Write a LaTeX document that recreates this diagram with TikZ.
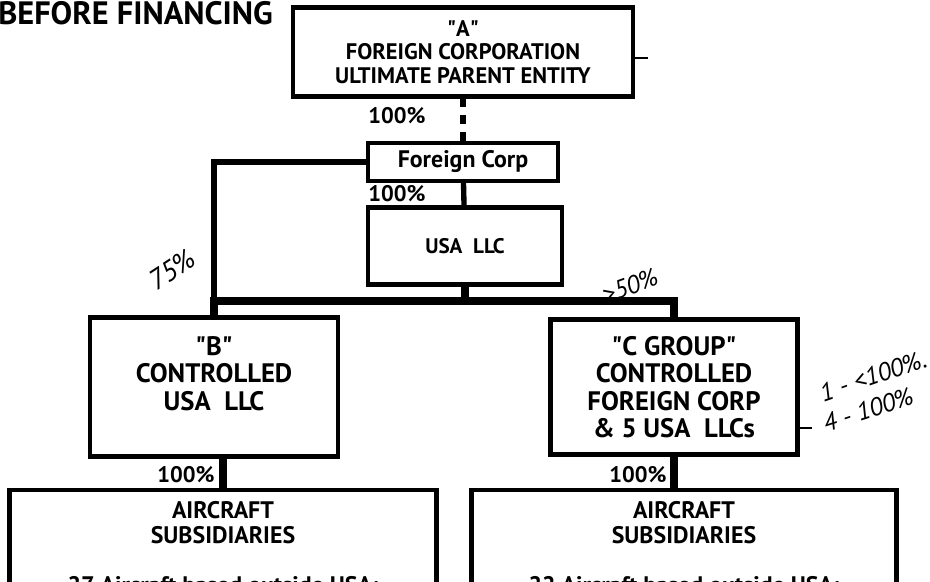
\documentclass[tikz,border=0pt]{standalone}
\usepackage{fontspec}
\setmainfont{PT Sans}
\usetikzlibrary{positioning}

\newlength{\px}
\setlength{\px}{0.025cm}
\newcommand{\qq}[1]{\textquotedbl#1\textquotedbl}

\begin{document}
\begin{tikzpicture}[x=\px, y=-\px]

% styles
\pgfkeys{/ent/.style={draw, line width=3pt, inner sep=0, align=center, font=\bfseries\fontsize{19}{19.6}\selectfont}} % entity boxes
\pgfkeys{/sub/.style={/ent, minimum height=210\px}} % aircraft subsidiaries
\pgfkeys{/own/.style={line width=3.8pt, line cap=rect}} % ownership lines
\pgfkeys{/bar/.style={line width=6pt, line cap=rect}} % thick common bar
\pgfkeys{/pct/.style={font=\bfseries\fontsize{16}{18}\selectfont, inner sep=0}} % percentages
\pgfkeys{/hand/.style={font=\itshape\fontsize{18}{20}\selectfont, inner sep=0}} % handwritten notes

\useasboundingbox (0,0) rectangle (930,582);
\clip (0,0) rectangle (930,582);

% title
\node[anchor=west, inner sep=0, font=\bfseries\fontsize{23}{26}\selectfont] (title) at (-2,13) {BEFORE FINANCING};

% entities
\node[/ent, minimum width=340\px, minimum height=89\px, font=\bfseries\fontsize{16}{16.7}\selectfont] (a) at (463,52) {\qq{A}\\FOREIGN CORPORATION\\ULTIMATE PARENT ENTITY};
\node[/ent, minimum width=190\px, minimum height=38\px, font=\bfseries\fontsize{17}{18}\selectfont] (fc) at (463,162) {Foreign Corp};
\node[/ent, minimum width=194\px, minimum height=77\px, font=\bfseries\fontsize{15}{17}\selectfont] (ullc) at (465,246) {USA\ \ LLC};
\node[/ent, minimum width=248\px, minimum height=139\px] (b) at (214,387) {\qq{B}\\CONTROLLED\\USA\ \ LLC\\\mbox{}};
\node[/ent, minimum width=247\px, minimum height=135\px] (c) at (674,387) {\qq{C GROUP}\\CONTROLLED\\FOREIGN CORP\\\& 5 USA\ \ LLCs};
\node[/sub, minimum width=427\px] (al) at (223,595) {};
\node[/sub, minimum width=425\px] (ar) at (684,595) {};
\node[/ent, draw=none, font=\bfseries\fontsize{17}{17.7}\selectfont, below=8pt of al.north] (altxt) {AIRCRAFT\\SUBSIDIARIES\\[18pt]27 Aircraft based outside USA:};
\node[/ent, draw=none, font=\bfseries\fontsize{17}{17.7}\selectfont, below=8pt of ar.north] (artxt) {AIRCRAFT\\SUBSIDIARIES\\[18pt]22 Aircraft based outside USA:};

% ownership lines
\draw[/own, dash pattern=on 6pt off 6pt, line cap=butt] (a) -- (fc); % 100% of Foreign Corp
\draw[/own] (fc) -- (ullc);
\draw[/own] (fc.west) -| (b.north);
\coordinate (bar) at (0,301);
\draw[/bar] (ullc) -- (ullc |- bar);
\draw[/bar] (b.north |- bar) -- (c.north |- bar) -- (c.north);
\draw[/bar] (b.north |- bar) -- (b.north);
\draw[/own, line width=5pt] (b.south -| al.north) -- (al.north);
\draw[/own, line width=5pt] (c.south) -- (c.south |- ar.north);

% percentages
\node[/pct] (p1) at (397,116) {100\%};
\node[/pct] (p2) at (397,194) {100\%};
\node[/pct] (p3) at (186,475) {100\%};
\node[/pct] (p4) at (638,475) {100\%};

% handwritten notes
\node[/hand, rotate=33, font=\itshape\fontsize{20}{22}\selectfont] (n75) at (172,270) {75\%};
\node[/hand, rotate=20] (n50) at (630,286) {>50\%};
\node[/hand, rotate=19] (n1) at (873,376) {1 - <100\%.};
\node[/hand, rotate=18] (n4) at (868,410) {4 - 100\%};
\coordinate (t4) at (812,428);
\draw[line width=1pt] (c.east |- t4) -- (t4);
\coordinate (ta) at (648,58);
\draw[line width=1pt] (a.east |- ta) -- (ta);

\end{tikzpicture}
\end{document}
